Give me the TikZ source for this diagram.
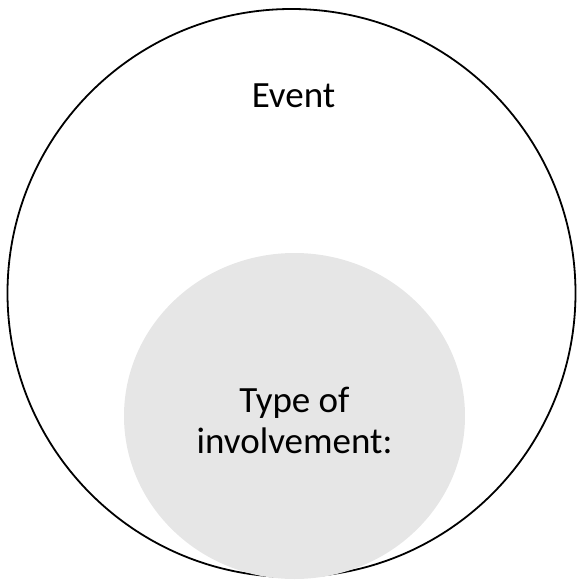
\documentclass[tikz,border=0pt]{standalone}
\usepackage{fontspec}
\setmainfont{Carlito}
\definecolor{innergray}{HTML}{E6E6E6}
\begin{document}
\begin{tikzpicture}[x=1pt,y=-1pt,
  outerc/.style={draw=black,line width=1.8pt},
  innerc/.style={fill=innergray},
  lbl/.style={font=\fontsize{37}{41}\selectfont,align=center,text=black,anchor=base,inner sep=0pt}]
\useasboundingbox (0,0) rectangle (582,582);
\draw[outerc] (291.5,293) circle [radius=284];
\fill[innerc] (294.5,416) ellipse [x radius=170.5, y radius=163];
\node[lbl] (event) at (293.5,107) {Event};
\node[lbl] (type) at (294.5,453) {Type of\\involvement:};
\end{tikzpicture}
\end{document}
